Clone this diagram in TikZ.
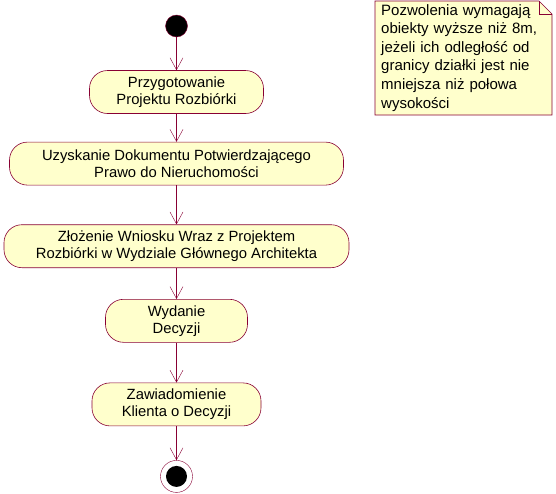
\documentclass[tikz,border=0pt]{standalone}
\usepackage{fontspec}
\setmainfont{Liberation Sans}
\usepackage{tikz}
\usetikzlibrary{
  arrows.meta,
  positioning,
  calc
}
\definecolor{umlLine}{HTML}{880033}
\definecolor{umlFill}{HTML}{FFFFCC}
\tikzset{
  activity/.style={
    draw=umlLine, fill=umlFill, rounded corners=18pt, minimum height=43pt,
    font=\fontsize{14.8}{17}\selectfont, align=center, inner sep=2pt, semithick
  },
  startstate/.style={circle, fill=black, draw=umlLine, minimum size=22pt, inner sep=0pt},
  endstate/.style={circle, draw=umlLine, fill=white, minimum size=32pt, inner sep=0pt,
    path picture={\fill[black] (path picture bounding box.center) circle (10.5pt);}},
  notetext/.style={font=\fontsize{15}{18.6}\selectfont, align=left, inner sep=0pt,
    text width=170pt},
  notebox/.style={draw=umlLine, fill=umlFill, semithick},
  flow/.style={-{Straight Barb[length=12pt, width=13pt]}, umlLine}
}
\begin{document}
\begin{tikzpicture}[x=1pt, y=1pt]
  \useasboundingbox (0,0) rectangle (556,-493);
  \node[startstate] (start) at (176.5,-26) {};
  \node[activity, minimum width=174pt, below=33pt of start] (a1) {Przygotowanie\\Projektu Rozbiórki};
  \node[activity, minimum width=334pt, below=28pt of a1] (a2) {Uzyskanie Dokumentu Potwierdzającego\\Prawo do Nieruchomości};
  \node[activity, minimum width=345pt, below=39pt of a2] (a3) {Złożenie Wniosku Wraz z Projektem\\Rozbiórki w Wydziale Głównego Architekta};
  \node[activity, minimum width=142pt, below=31pt of a3] (a4) {Wydanie\\Decyzji};
  \node[activity, minimum width=169pt, below=40pt of a4] (a5) {Zawiadomienie\\Klienta o Decyzji};
  \node[endstate, below=34pt of a5] (stop) {};
  \draw[flow] (start) -- (a1);
  \foreach \a/\b in {a1/a2, a2/a3, a3/a4, a4/a5, a5/stop}{\draw[flow] (\a) -- (\b);}
  % note
  \coordinate (nw) at (375,-1);
  \coordinate (se) at (552,-115);
  \draw[notebox] (nw) -- ($(se|-nw)+(-13,0)$) -- ($(se|-nw)+(0,-13)$) -- (se) -- (nw|-se) -- cycle;
  \draw[umlLine, semithick] ($(se|-nw)+(-13,0)$) -- ($(se|-nw)+(-13,-13)$) -- ($(se|-nw)+(0,-13)$);
  \node[notetext, anchor=north west] (note) at (381,-4) {Pozwolenia wymagają\\obiekty wyższe niż 8m,\\jeżeli ich odległość od\\granicy działki jest nie\\mniejsza niż połowa\\wysokości};
\end{tikzpicture}
\end{document}
